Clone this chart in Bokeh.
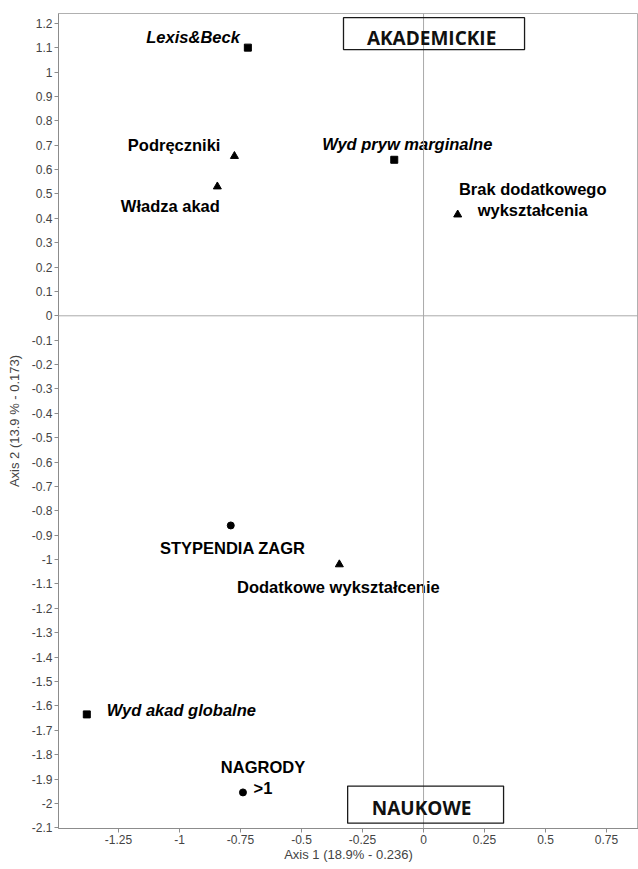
from bokeh.plotting import figure
from bokeh.models import Range1d, FixedTicker, Span, BoxAnnotation, Label
from bokeh.core.properties import value
from bokeh.embed import file_html
from bokeh.resources import INLINE

# ---------------- data ----------------
square_names = ["Lexis&Beck", "Wyd pryw marginalne", "Wyd akad globalne"]
square_x = [-0.72, -0.12, -1.38]
square_y = [1.10, 0.64, -1.635]

triangle_names = ["Podręczniki", "Władza akad", "Brak dodatkowego\nwykształcenia", "Dodatkowe wykształcenie"]
triangle_x = [-0.775, -0.845, 0.14, -0.345]
triangle_y = [0.655, 0.53, 0.415, -1.02]

circle_names = ["STYPENDIA ZAGR", "NAGRODY\n>1"]
circle_x = [-0.79, -0.74]
circle_y = [-0.86, -1.955]

quadrant_names = ["AKADEMICKIE", "NAUKOWE"]

x_ticks = [-1.25, -1.0, -0.75, -0.5, -0.25, 0.0, 0.25, 0.5, 0.75]
x_tick_labels = ["-1.25", "-1", "-0.75", "-0.5", "-0.25", "0", "0.25", "0.5", "0.75"]
y_ticks = [1.2, 1.1, 1.0, 0.9, 0.8, 0.7, 0.6, 0.5, 0.4, 0.3, 0.2, 0.1, 0.0,
           -0.1, -0.2, -0.3, -0.4, -0.5, -0.6, -0.7, -0.8, -0.9, -1.0,
           -1.1, -1.2, -1.3, -1.4, -1.5, -1.6, -1.7, -1.8, -1.9, -2.0, -2.1]
y_tick_labels = ["1.2", "1.1", "1", "0.9", "0.8", "0.7", "0.6", "0.5", "0.4", "0.3", "0.2", "0.1", "0",
                 "-0.1", "-0.2", "-0.3", "-0.4", "-0.5", "-0.6", "-0.7", "-0.8", "-0.9", "-1",
                 "-1.1", "-1.2", "-1.3", "-1.4", "-1.5", "-1.6", "-1.7", "-1.8", "-1.9", "-2", "-2.1"]

x_label = "Axis 1 (18.9% - 0.236)"
y_label = "Axis 2 (13.9 % - 0.173)"

# ---------------- layout (screen offsets of labels) ----------------
label_layout = {
    "Lexis&Beck": (-8, -11, "right"),
    "Wyd pryw marginalne": (13, -16, "center"),
    "Wyd akad globalne": (20, -4, "left"),
    "Podręczniki": (-14, -11, "right"),
    "Władza akad": (-47, 19, "center"),
    "Brak dodatkowego\nwykształcenia": (75, -26, "center"),
    "Dodatkowe wykształcenie": (-1, 23, "center"),
    "STYPENDIA ZAGR": (2, 23, "center"),
    "NAGRODY\n>1": (20, -25, "center"),
}
LINE_STEP = 21

p = figure(width=638, height=869, output_backend="svg", toolbar_location=None,
           x_range=Range1d(-1.496, 0.881), y_range=Range1d(-2.103, 1.240),
           min_border_left=58, min_border_right=0, min_border_top=13, min_border_bottom=41)
p.grid.visible = False
p.background_fill_color = "white"
p.border_fill_color = "white"
p.outline_line_color = "#b0b0b0"
p.outline_line_width = 1

FONT = "Liberation Sans"
for ax in (p.xaxis[0], p.yaxis[0]):
    ax.axis_line_color = "#8c8c8c"
    ax.major_tick_line_color = "#8c8c8c"
    ax.major_tick_out = 4
    ax.major_tick_in = 0
    ax.minor_tick_out = 0
    ax.minor_tick_in = 0
    ax.major_label_text_font = FONT
    ax.major_label_text_font_size = "12px"
    ax.major_label_text_color = "#444444"
    ax.major_label_standoff = 2
    ax.axis_label_text_font = FONT
    ax.axis_label_text_font_size = "13px"
    ax.axis_label_text_font_style = "normal"
    ax.axis_label_text_color = "#444444"
p.xaxis.axis_label_standoff = 0
p.yaxis.axis_label_standoff = 7

p.xaxis.ticker = FixedTicker(ticks=x_ticks)
p.yaxis.ticker = FixedTicker(ticks=y_ticks)
p.xaxis.major_label_overrides = dict(zip(x_ticks, x_tick_labels))
p.yaxis.major_label_overrides = dict(zip(y_ticks, y_tick_labels))
p.xaxis.axis_label = x_label
p.yaxis.axis_label = y_label

# reference lines
p.add_layout(Span(location=0, dimension="height", line_color="#aaaaaa", line_width=1))
p.add_layout(Span(location=0, dimension="width", line_color="#aaaaaa", line_width=1))

# quadrant boxes
quad_boxes = [(-0.328, 0.414, 1.223, 1.092, 0.033, 1.141),
              (-0.311, 0.328, -1.929, -2.081, -0.008, -2.020)]
for name, (l, r, t, b, tx, ty) in zip(quadrant_names, quad_boxes):
    p.add_layout(BoxAnnotation(left=l, right=r, top=t, bottom=b, fill_alpha=0,
                               line_color="#1a1a1a", line_alpha=1, line_width=1.3))
    p.add_layout(Label(x=tx, y=ty, text=name, text_align="center", text_baseline="middle",
                       text_font="Open Sans", text_font_style="bold", text_font_size="19px",
                       text_color="#111111"))

# points
p.scatter(square_x, square_y, marker="square", size=7, color="black")
p.scatter(triangle_x, triangle_y, marker="triangle", size=8, color="black")
p.scatter(circle_x, circle_y, marker="circle", size=7, color="black")

def add_labels(names, xs, ys, style):
    for n, x, y in zip(names, xs, ys):
        dx, dy, align = label_layout[n]
        for i, line in enumerate(n.split("\n")):
            p.text(x=[x], y=[y], text=[line], x_offset=dx, y_offset=dy + i * LINE_STEP,
                   text_align=align, text_baseline="middle",
                   text_font=value(FONT), text_font_style=style,
                   text_font_size="16.5px", text_color="black")

add_labels(square_names, square_x, square_y, "bold italic")
add_labels(triangle_names, triangle_x, triangle_y, "bold")
add_labels(circle_names, circle_x, circle_y, "bold")

open("out.html", "w").write(file_html(p, INLINE))
